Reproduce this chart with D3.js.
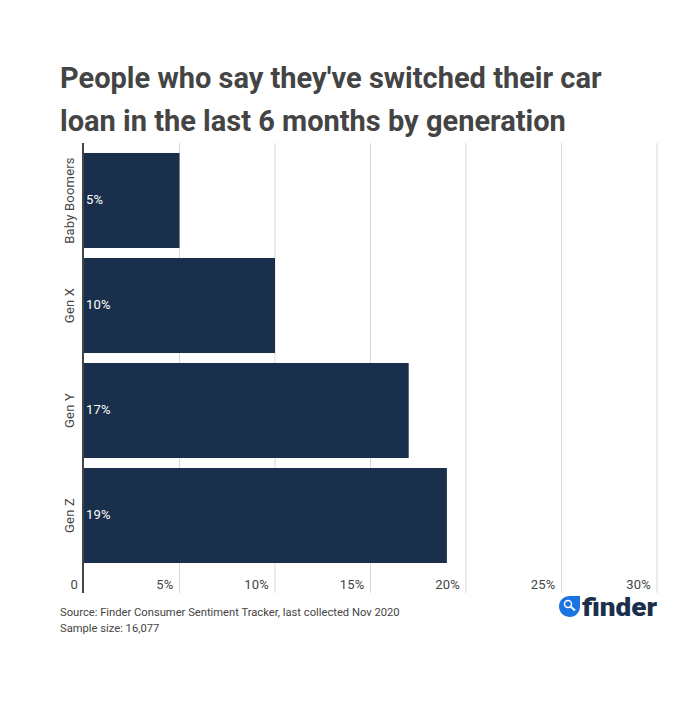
<!DOCTYPE html>
<html>
<head>
<meta charset="utf-8">
<script src="https://cdnjs.cloudflare.com/ajax/libs/d3/7.8.5/d3.min.js"></script>
<style>
  html, body { margin: 0; padding: 0; background: #fff; }
  text { font-family: Roboto, sans-serif; }
  .title { font-size: 29px; font-weight: 700; fill: #444; }
  .tick_label { font-size: 13px; font-weight: 400; letter-spacing: 0.2px; fill: #444; }
  .bar_label { font-size: 13px; font-weight: 400; letter-spacing: 0.2px; fill: #fff; }
  .note { font-size: 11.2px; fill: #444; }
</style>
</head>
<body>
<svg id="chart" width="700" height="707"></svg>
<script>
const generations = ["Baby Boomers", "Gen X", "Gen Y", "Gen Z"];
const switchedPct = [5, 10, 17, 19];
const xTicks = [0, 5, 10, 15, 20, 25, 30];
const titleLines = [
  "People who say they've switched their car",
  "loan in the last 6 months by generation",
];
const notes = [
  "Source: Finder Consumer Sentiment Tracker, last collected Nov 2020",
  "Sample size: 16,077",
];

const svg = d3.select("#chart");

const x = d3.scaleLinear().domain([0, 30]).range([84, 657]);
const y = d3
  .scaleBand()
  .domain(generations)
  .range([148, 568])
  .paddingInner(0.095)
  .paddingOuter(0.0475);

svg
  .append("g")
  .selectAll("text")
  .data(titleLines)
  .join("text")
  .attr("class", "title")
  .attr("x", 60)
  .attr("y", (d, i) => 88 + i * 42.5)
  .text((d) => d);

// Gridlines sit behind the bars
svg
  .append("g")
  .selectAll("line")
  .data(xTicks.slice(1))
  .join("line")
  .attr("x1", (d) => x(d))
  .attr("x2", (d) => x(d))
  .attr("y1", 143)
  .attr("y2", 593)
  .attr("stroke", "#d9d9d9");

svg
  .append("g")
  .selectAll("rect")
  .data(switchedPct)
  .join("rect")
  .attr("x", x(0))
  .attr("y", (d, i) => y(generations[i]))
  .attr("width", (d) => x(d) - x(0))
  .attr("height", y.bandwidth())
  .attr("fill", "#1a2f4b");

svg
  .append("line")
  .attr("x1", x(0) - 1)
  .attr("x2", x(0) - 1)
  .attr("y1", 143)
  .attr("y2", 593)
  .attr("stroke", "#444")
  .attr("stroke-width", 2);

svg
  .append("g")
  .selectAll("text")
  .data(switchedPct)
  .join("text")
  .attr("class", "bar_label")
  .attr("x", x(0) + 2)
  .attr("y", (d, i) => y(generations[i]) + y.bandwidth() / 2 + 3.5)
  .text((d) => `${d}%`);

// Category labels are rotated and centred on each bar
svg
  .append("g")
  .selectAll("text")
  .data(generations)
  .join("text")
  .attr("class", "tick_label")
  .attr("text-anchor", "middle")
  .attr(
    "transform",
    (d) => `translate(73.5,${y(d) + y.bandwidth() / 2}) rotate(-90)`
  )
  .text((d) => d);

svg
  .append("g")
  .selectAll("text")
  .data(xTicks)
  .join("text")
  .attr("class", "tick_label")
  .attr("text-anchor", "end")
  .attr("x", (d) => x(d) - 6)
  .attr("y", 589)
  .text((d) => (d === 0 ? "0" : `${d}%`));

svg
  .append("g")
  .selectAll("text")
  .data(notes)
  .join("text")
  .attr("class", "note")
  .attr("x", 60)
  .attr("y", (d, i) => 616 + i * 16)
  .text((d) => d);

// Finder logo
const logo = svg.append("g").attr("transform", "translate(559,595)");
logo
  .append("path")
  .attr("d", "M11 1H21V11A10.5 10.5 0 1 1 11 1Z")
  .attr("fill", "#1a73e0");
logo
  .append("circle")
  .attr("cx", 9)
  .attr("cy", 9)
  .attr("r", 3.5)
  .attr("fill", "none")
  .attr("stroke", "#fff")
  .attr("stroke-width", 1.5);
logo
  .append("line")
  .attr("x1", 11.5)
  .attr("y1", 11.5)
  .attr("x2", 16)
  .attr("y2", 15.5)
  .attr("stroke", "#fff")
  .attr("stroke-width", 2);
logo
  .append("text")
  .attr("x", 23)
  .attr("y", 21)
  .attr("font-size", 26)
  .attr("font-weight", 900)
  .attr("fill", "#1a2f4b")
  .attr("textLength", 75)
  .attr("lengthAdjust", "spacingAndGlyphs")
  .text("finder");
</script>
</body>
</html>
